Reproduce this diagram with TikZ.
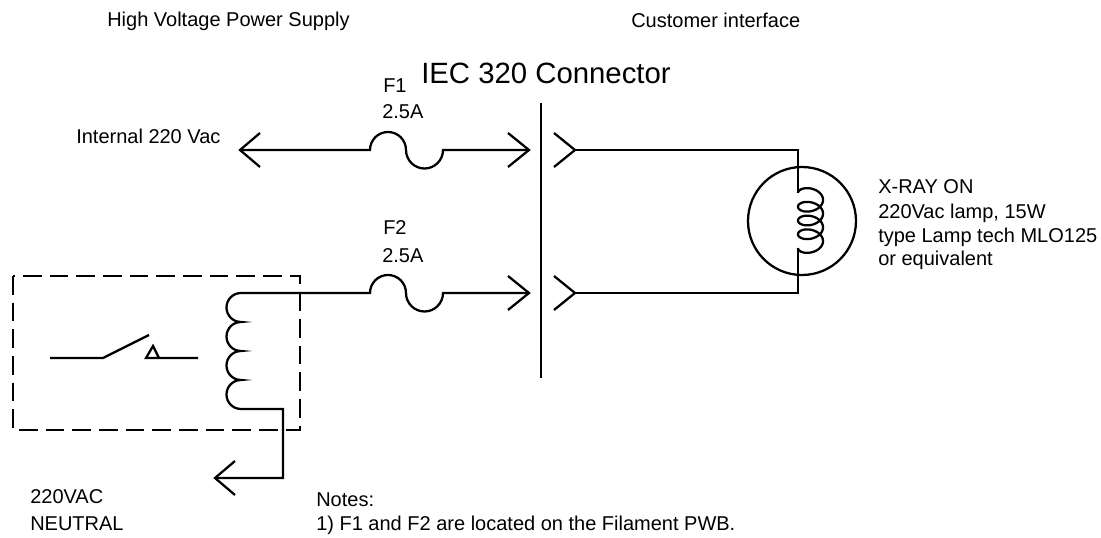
\documentclass[tikz,border=0pt]{standalone}
\usepackage{fontspec}
\setmainfont{Liberation Sans}
\tikzset{
  wire/.style={line width=1.7pt,line join=miter},
  txt/.style={anchor=base west,inner sep=0pt,font=\fontsize{15}{18}\selectfont},
}
\begin{document}
\begin{tikzpicture}[x=0.75pt,y=0.75pt]
   \useasboundingbox (0,0) rectangle (1101,537);
   % headings
   \node[txt] (hv) at (107,510) {High Voltage Power Supply};
   \node[txt] (ci) at (631,509) {Customer interface};
   \node[txt,font=\fontsize{22}{26}\selectfont] (iec) at (421,454) {IEC 320 Connector};
   \node[txt] (fa) at (383,445) {F1};
   \node[txt] (fb) at (382,418) {2.5A};
   \node[txt] (int) at (76,393) {Internal 220 Vac};
   \node[txt] (fc) at (383,303) {F2};
   \node[txt] (fd) at (382,275) {2.5A};
   \node[txt] (la) at (878,344) {X-RAY ON};
   \node[txt] (lb) at (878,319) {220Vac lamp, 15W};
   \node[txt] (lc) at (878,295) {type Lamp tech MLO125};
   \node[txt] (ld) at (878,272) {or equivalent};
   \node[txt] (na) at (30,34) {220VAC};
   \node[txt] (nb) at (30,7) {NEUTRAL};
   \node[txt] (nc) at (316,31) {Notes:};
   \node[txt] (nd) at (316,7) {1) F1 and F2 are located on the Filament PWB.};
   % free ends
   \coordinate (ta) at (240,387);
   \coordinate (tb) at (529,387);
   \coordinate (tc) at (529,244);
   \coordinate (pa) at (575,387);
   \coordinate (pb) at (575,244);
   % top line with fuse
   \draw[wire] (260,404)--(ta)--(260,370);
   \draw[wire] (ta)--(370,387) arc (180:0:18) arc (180:360:18.5)--(tb);
   \draw[wire] (508,404)--(tb)--(508,370);
   % lower line with fuse, from relay coil
   \draw[wire] (241,244)--(370,244) arc (180:0:18) arc (180:360:18.5)--(tc);
   \draw[wire] (508,261)--(tc)--(508,227);
   % connector
   \draw[wire] (541,434)--(541,159);
   \draw[wire] (554,404)--(pa)--(554,370);
   \draw[wire] (554,261)--(pb)--(554,227);
   \draw[wire] (pa)--(798,387)--(798,344);
   \draw[wire] (pb)--(798,244)--(798,289);
   % lamp
   \draw[wire] (802,316) circle [radius=54];
   \draw[wire] plot[domain=180:-1260,samples=240,smooth,variable=\t] ({810.5+12.5*cos(\t)},{344+(\t-180)/360*13.75+8*sin(\t)});
   % relay box
   \draw[wire,dash pattern=on 14pt off 6pt] (13,261) rectangle (300,107);
   % relay coil
   \draw[wire] (241,244) arc (90:270:14.5) arc (90:270:14.5) arc (90:270:14.5) arc (90:270:14.5)--(283,128)--(283,59)--(215,59);
   \draw[wire] (235,76)--(215,59)--(235,42);
   % switch
   \draw[wire] (50,179)--(103,179)--(149,202);
   \draw[wire] (198,179)--(146,179)--(153,191)--(159,179);
\end{tikzpicture}
\end{document}
